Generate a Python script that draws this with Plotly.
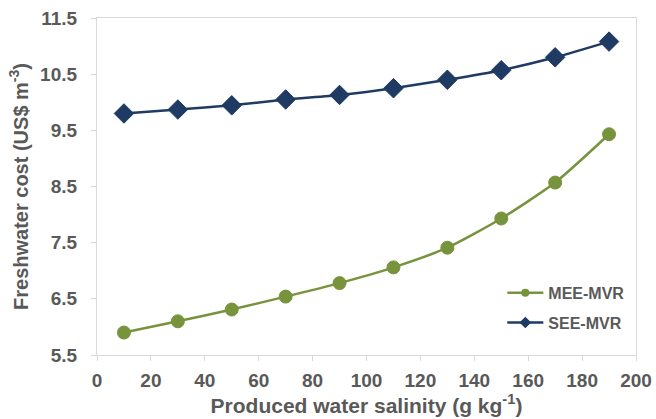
import plotly.graph_objects as go

salinity = [10, 30, 50, 70, 90, 110, 130, 150, 170, 190]
mee_mvr = [5.90, 6.10, 6.31, 6.54, 6.78, 7.06, 7.41, 7.93, 8.57, 9.43]
see_mvr = [9.80, 9.87, 9.945, 10.05, 10.13, 10.25, 10.40, 10.57, 10.80, 11.08]

x_ticks = list(range(0, 201, 20))
y_ticks = [5.5, 6.5, 7.5, 8.5, 9.5, 10.5, 11.5]

green = "#77933C"
navy = "#1F3B64"
grey_text = "#595959"
axis_grey = "#D9D9D9"
font_family = "Liberation Sans, Arial, sans-serif"

series = [
    ("MEE-MVR", mee_mvr, green, "circle", 13, 8),
    ("SEE-MVR", see_mvr, navy, "diamond", 15, 9),
]

fig = go.Figure()
for i, (name, vals, color, sym, msize, lsize) in enumerate(series):
    fig.add_trace(go.Scatter(
        x=salinity, y=vals, name=name, mode="lines+markers", showlegend=False,
        line=dict(color=color, width=2.5, shape="spline", smoothing=0.6),
        marker=dict(symbol=sym, size=msize, color=color, line=dict(color=color, width=1)),
    ))
for i, (name, vals, color, sym, msize, lsize) in enumerate(series):
    fig.add_trace(go.Scatter(
        x=[None], y=[None], name=name, mode="lines+markers", legendgroup=f"g{i}",
        line=dict(color=color, width=2.5),
        marker=dict(symbol=sym, size=lsize, color=color),
    ))

fig.update_layout(
    width=656, height=419,
    margin=dict(l=97, r=20, t=18, b=64),
    paper_bgcolor="white", plot_bgcolor="white",
    font=dict(family=font_family, color=grey_text, size=16),
    showlegend=True,
    legend=dict(
        x=0.752, y=0.235, xanchor="left", yanchor="top",
        font=dict(family=font_family, size=16, color=grey_text, weight="bold"),
        bgcolor="rgba(0,0,0,0)", traceorder="grouped", tracegroupgap=6, itemwidth=36,
    ),
)
fig.update_xaxes(
    range=[0, 200], tickvals=x_ticks, ticktext=[str(v) for v in x_ticks],
    showgrid=False, zeroline=False, automargin=False,
    showline=True, linecolor=axis_grey, linewidth=1.2, mirror=True,
    ticks="outside", ticklen=5, tickcolor=axis_grey, ticklabelstandoff=3,
    tickfont=dict(family=font_family, size=19, color=grey_text, weight="bold"),
    title=dict(text="Produced water salinity (g kg<sup>-1</sup>)",
               font=dict(family=font_family, size=21, color=grey_text, weight="bold"),
               standoff=8),
)
fig.update_yaxes(
    range=[5.5, 11.5], tickvals=y_ticks, ticktext=[f"{v:.1f}" for v in y_ticks],
    showgrid=False, zeroline=False, automargin=False,
    showline=True, linecolor=axis_grey, linewidth=1.2, mirror=True,
    ticks="outside", ticklen=5, tickcolor=axis_grey, ticklabelstandoff=10,
    tickfont=dict(family=font_family, size=19, color=grey_text, weight="bold"),
    title=dict(text="Freshwater cost (US$ m<sup>-3</sup>)",
               font=dict(family=font_family, size=20, color=grey_text, weight="bold"),
               standoff=6),
)

fig.write_html("out.html")
